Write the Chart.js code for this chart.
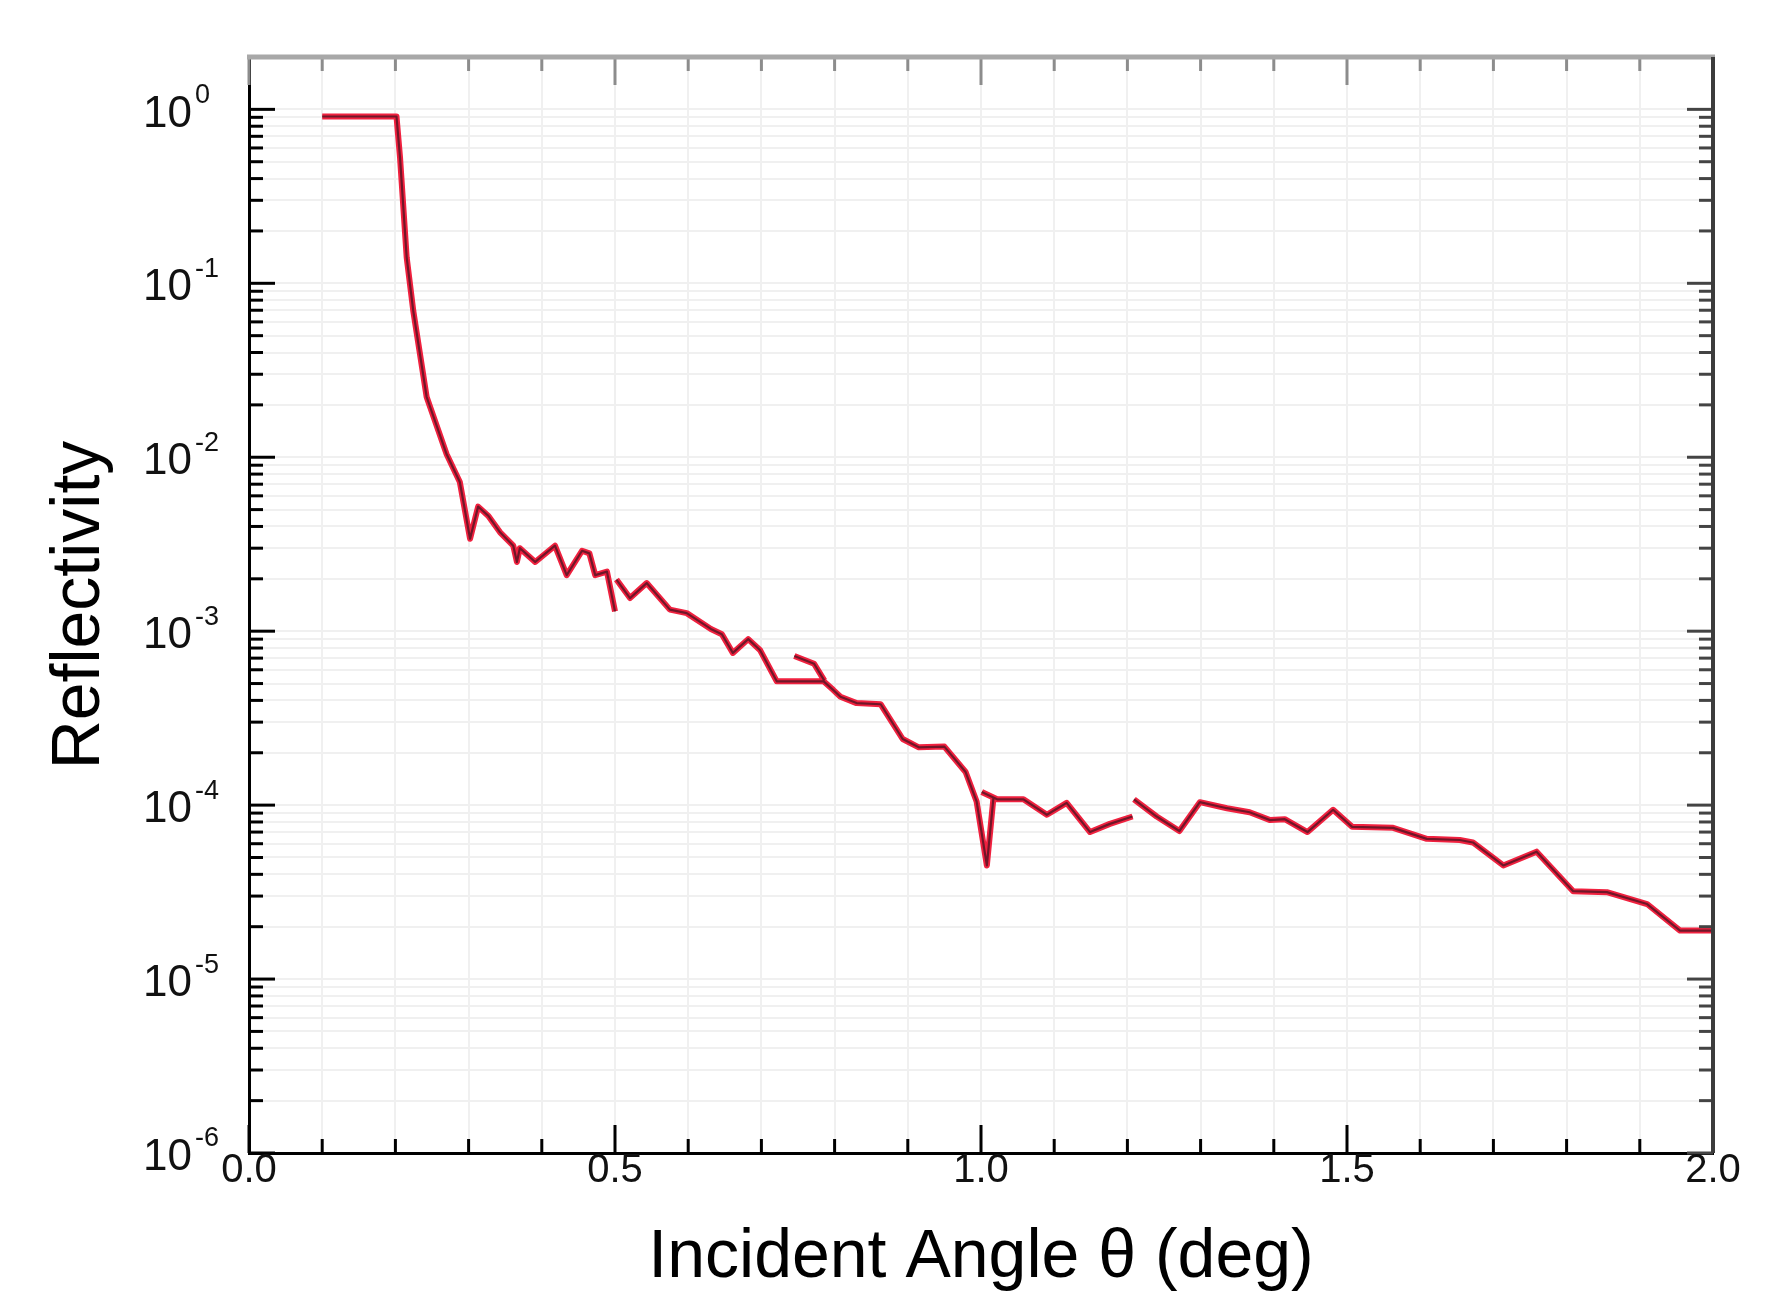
<!DOCTYPE html>
<html>
<head>
<meta charset="utf-8">
<script src="https://cdn.jsdelivr.net/npm/chart.js@4.4.0/dist/chart.umd.min.js"></script>
<style>
  html, body { margin: 0; padding: 0; background: #fff; }
  #wrap { width: 1773px; height: 1294px; }
</style>
</head>
<body>
<div id="wrap"><canvas id="reflChart"></canvas></div>
<script>
// Reflectivity scans (angle in deg, reflectivity)
const angleScan1 = [0.100, 0.150, 0.2015, 0.2063, 0.2154, 0.2245, 0.2427, 0.270, 0.288, 0.302, 0.313, 0.327,
                    0.343, 0.361, 0.366, 0.370, 0.391, 0.418, 0.434, 0.455, 0.465, 0.473, 0.489, 0.500];
const reflScan1 = [0.91, 0.91, 0.91, 0.53, 0.141, 0.069, 0.0222, 0.0104, 0.0072, 0.0034, 0.0052, 0.0046,
                   0.0037, 0.0031, 0.0025, 0.0030, 0.0025, 0.0031, 0.0021, 0.0029, 0.0028, 0.0021, 0.0022, 0.0013];

const angleScan2 = [0.502, 0.5205, 0.5433, 0.575, 0.598, 0.631, 0.646, 0.661, 0.682, 0.698, 0.721, 0.785,
                    0.798, 0.808, 0.830, 0.863, 0.893, 0.915, 0.950, 0.979, 0.994, 1.008, 1.017];
const reflScan2 = [1.98e-3, 1.55e-3, 1.89e-3, 1.33e-3, 1.27e-3, 1.03e-3, 9.6e-4, 7.5e-4, 9.0e-4, 7.8e-4, 5.15e-4, 5.15e-4,
                   4.6e-4, 4.2e-4, 3.86e-4, 3.8e-4, 2.4e-4, 2.15e-4, 2.17e-4, 1.55e-4, 1.05e-4, 4.5e-5, 1.1e-4];

const angleScan3 = [0.745, 0.772, 0.786];
const reflScan3 = [7.2e-4, 6.5e-4, 5.2e-4];

const angleScan4 = [1.001, 1.022, 1.058, 1.090, 1.117, 1.149, 1.176, 1.207];
const reflScan4 = [1.19e-4, 1.08e-4, 1.08e-4, 8.8e-5, 1.03e-4, 7.0e-5, 7.8e-5, 8.6e-5];

const angleScan5 = [1.209, 1.240, 1.271, 1.299, 1.336, 1.367, 1.395, 1.415, 1.446, 1.481, 1.507,
                    1.563, 1.609, 1.654, 1.672, 1.7135, 1.759, 1.809, 1.855, 1.910, 1.955, 2.000];
const reflScan5 = [1.08e-4, 8.6e-5, 7.1e-5, 1.04e-4, 9.6e-5, 9.1e-5, 8.2e-5, 8.3e-5, 7.0e-5, 9.4e-5, 7.5e-5,
                   7.4e-5, 6.4e-5, 6.3e-5, 6.1e-5, 4.5e-5, 5.4e-5, 3.2e-5, 3.16e-5, 2.7e-5, 1.9e-5, 1.9e-5];

// axis ticks
const xMajorTicks = [0.0, 0.5, 1.0, 1.5, 2.0];
const xTickLabels = ['0.0', '0.5', '1.0', '1.5', '2.0'];
const xMinorTicks = [0.0, 0.1, 0.2, 0.3, 0.4, 0.5, 0.6, 0.7, 0.8, 0.9, 1.0,
                     1.1, 1.2, 1.3, 1.4, 1.5, 1.6, 1.7, 1.8, 1.9, 2.0];
const yDecades = [-6, -5, -4, -3, -2, -1, 0];
const yTickLabels = ['-6', '-5', '-4', '-3', '-2', '-1', '0'];

const FONT = '"Liberation Sans", Arial, Helvetica, sans-serif';

// join the scans into one point list, a null between scans breaks the line
function joinScans(scans) {
    const pts = [];
    scans.forEach(([ang, refl], i) => {
        if (i > 0) pts.push({x: ang[0], y: null});
        ang.forEach((a, k) => pts.push({x: a, y: refl[k]}));
    });
    return pts;
}

const points = joinScans([
    [angleScan1, reflScan1],
    [angleScan2, reflScan2],
    [angleScan3, reflScan3],
    [angleScan4, reflScan4],
    [angleScan5, reflScan5]
]);

function yTickValues() {
    const vals = [];
    yDecades.forEach(d => {
        for (let k = 1; k <= 9; k++) {
            const v = k * Math.pow(10, d);
            if (v <= 2.0001) vals.push(v);
        }
    });
    return vals;
}

function isMajorX(v) {
    return xMajorTicks.some(m => Math.abs(m - v) < 1e-6);
}

function isDecade(v) {
    const l = Math.log10(v);
    return Math.abs(l - Math.round(l)) < 1e-6;
}

// frame on top/right, inward ticks on all four sides, tick labels
const frameAndLabels = {
    id: 'frameAndLabels',
    afterDraw(chart) {
        const {ctx, chartArea: a, scales: {x, y}} = chart;
        const seg = (x1, y1, x2, y2, color, w) => {
            ctx.strokeStyle = color;
            ctx.lineWidth = w;
            ctx.beginPath();
            ctx.moveTo(x1, y1);
            ctx.lineTo(x2, y2);
            ctx.stroke();
        };
        ctx.save();
        ctx.lineCap = 'butt';

        x.ticks.forEach(t => {
            const px = x.getPixelForValue(t.value);
            const len = isMajorX(t.value) ? 28 : 14;
            seg(px, a.bottom, px, a.bottom - len, '#000', 3);
            seg(px, a.top, px, a.top + len, '#8c8c8c', 3);
        });
        y.ticks.forEach(t => {
            const py = y.getPixelForValue(t.value);
            const len = isDecade(t.value) ? 26 : 14;
            seg(a.left, py, a.left + len, py, '#000', 3);
            seg(a.right, py, a.right - len, py, '#444', 3);
        });

        seg(a.left - 2, a.top, a.right + 2, a.top, '#a8a8a8', 5);
        seg(a.right, a.top, a.right, a.bottom, '#3c3c3c', 4);

        ctx.fillStyle = '#111';
        // 10^n labels on the log axis
        yDecades.forEach((d, i) => {
            const py = y.getPixelForValue(Math.pow(10, d));
            ctx.font = '44px ' + FONT;
            ctx.textAlign = 'right';
            ctx.textBaseline = 'middle';
            ctx.fillText('10', 192, py + 5);
            ctx.font = '27px ' + FONT;
            ctx.textAlign = 'left';
            ctx.fillText(yTickLabels[i], 195, py - 14);
        });
        // angle labels, sitting right under the axis line
        ctx.font = '40px ' + FONT;
        ctx.textAlign = 'center';
        ctx.textBaseline = 'middle';
        xMajorTicks.forEach((v, i) => {
            ctx.fillText(xTickLabels[i], x.getPixelForValue(v), a.bottom + 18);
        });
        ctx.restore();
    }
};

const ctx = document.getElementById('reflChart').getContext('2d');
new Chart(ctx, {
    type: 'line',
    data: {
        datasets: [{
            label: 'measured',
            data: points,
            borderColor: 'rgba(80, 20, 35, 0.8)',
            borderWidth: 2.2,
            borderJoinStyle: 'round',
            pointRadius: 0,
            tension: 0,
            spanGaps: false
        }, {
            label: 'fit',
            data: points,
            borderColor: '#f0213f',
            borderWidth: 6,
            borderJoinStyle: 'round',
            pointRadius: 0,
            tension: 0,
            spanGaps: false
        }]
    },
    options: {
        responsive: true,
        maintainAspectRatio: false,
        animation: false,
        layout: { padding: { top: 57, right: 60, left: 0, bottom: 0 } },
        plugins: {
            legend: { display: false },
            tooltip: { enabled: false }
        },
        scales: {
            x: {
                type: 'linear',
                min: 0,
                max: 2,
                afterBuildTicks: scale => { scale.ticks = xMinorTicks.map(v => ({value: v})); },
                afterFit: scale => { scale.height = 141; },
                grid: { color: '#f0f0f0', lineWidth: 2, drawTicks: false },
                border: { color: '#000', width: 3 },
                ticks: { display: false },
                title: {
                    display: true,
                    text: 'Incident Angle θ (deg)',
                    color: '#000',
                    font: { size: 68, family: FONT },
                    padding: { top: 0, bottom: -5 }
                }
            },
            y: {
                type: 'logarithmic',
                min: 1e-6,
                max: 2,
                afterBuildTicks: scale => { scale.ticks = yTickValues().map(v => ({value: v})); },
                afterFit: scale => { scale.width = 249; },
                grid: { color: '#f0f0f0', lineWidth: 2, drawTicks: false },
                border: { color: '#000', width: 3 },
                ticks: { display: false },
                title: {
                    display: true,
                    text: 'Reflectivity',
                    color: '#000',
                    font: { size: 68, family: FONT },
                    padding: { top: 39, bottom: 0 }
                }
            }
        }
    },
    plugins: [frameAndLabels]
});
</script>
</body>
</html>
